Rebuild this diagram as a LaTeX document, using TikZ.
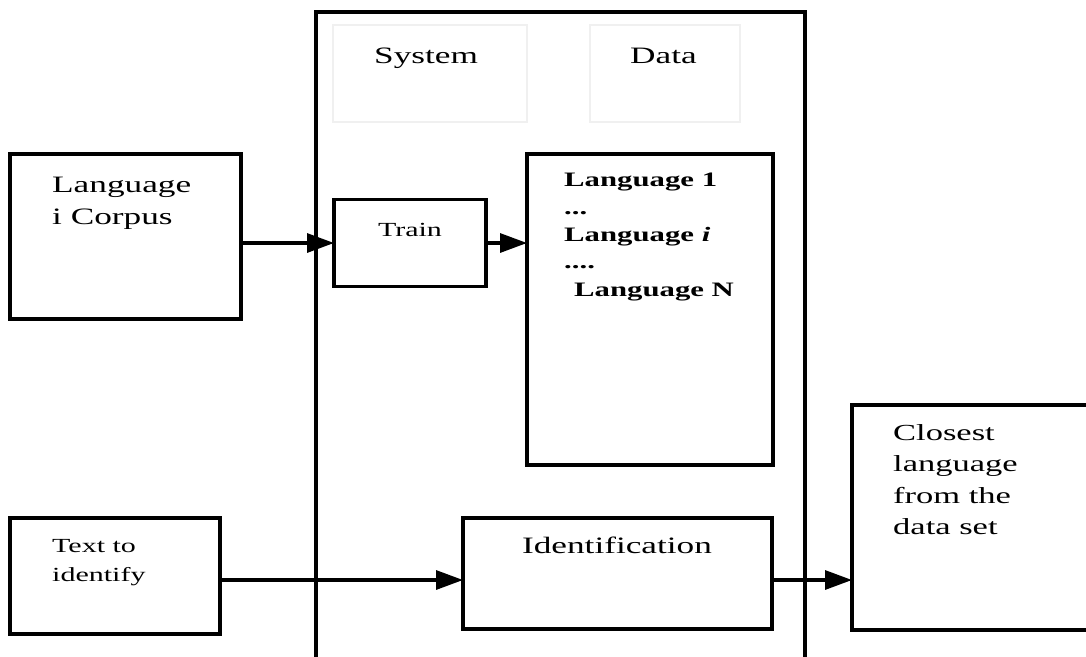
\documentclass[tikz,border=0pt]{standalone}
\usepackage{fontspec}
\setmainfont{Liberation Serif}[FakeStretch=1.5]
\usepackage{tikz}
\usetikzlibrary{calc,positioning,arrows.meta}
\tikzset{
	>={Triangle[length=27pt,width=19pt]},
	x=1pt, y=-1pt,
	block/.style={draw, line width=3.2pt, inner sep=0pt, outer sep=0pt},
	ghost/.style={draw=gray!12, line width=2.5pt, inner sep=0pt, outer sep=0pt},
	lbl/.style={inner sep=0pt, align=left, anchor=base west},
	flow/.style={->, line width=3.2pt},
}

\begin{document}
\begin{tikzpicture}
		\useasboundingbox (0,0) rectangle (1086,656);
		\clip (0,0) rectangle (1086,656);

		% boxes
		\node[block, minimum width=489pt, minimum height=688pt] (sys) at (560.5,356) {};
		\node[ghost, minimum width=194pt, minimum height=97pt] (syshead) at (430,73.5) {};
		\node[ghost, minimum width=150pt, minimum height=97pt] (datahead) at (665,73.5) {};
		\node[block, minimum width=231pt, minimum height=165pt] (corpus) at (125.5,236.5) {};
		\node[block, minimum width=152pt, minimum height=87pt] (train) at (410,243) {};
		\node[block, minimum width=246pt, minimum height=311pt] (langs) at (650,309.5) {};
		\node[block, minimum width=210pt, minimum height=116pt] (textid) at (115,576) {};
		\node[block, minimum width=309pt, minimum height=111pt] (ident) at (617.5,573.5) {};
		\node[block, minimum width=268pt, minimum height=225pt] (closest) at (986,517.5) {};

		% texts (multi-line ones sit on the baseline of their last line)
		\node[lbl, font=\fontsize{23.5}{32}\selectfont] (systxt) at (374,63) {System};
		\node[lbl, font=\fontsize{23.5}{32}\selectfont] (datatxt) at (630,63) {Data};
		\node[lbl, font=\fontsize{23.5}{32}\selectfont] (corpustxt) at (52,224) {Language\\i Corpus};
		\node[lbl, anchor=base, font=\fontsize{20}{27}\selectfont] (traintxt) at (410,236) {Train};
		\node[lbl, font=\bfseries\fontsize{20.5}{27.3}\selectfont] (langstxt) at (564,296)
			{Language 1\\...\\Language \textit{i}\\....\\\hspace{10pt}Language N};
		\node[lbl, font=\fontsize{20}{29}\selectfont] (textidtxt) at (52,581) {Text to\\identify};
		\node[lbl, anchor=base, font=\fontsize{23.5}{32}\selectfont] (identtxt) at (617,553) {Identification};
		\node[lbl, font=\fontsize{23}{31.5}\selectfont] (closesttxt) at (893,534.5)
			{Closest\\language\\from the\\data set};

		% arrows
		\draw[flow] ([yshift=-6.5pt]corpus.east) -- (train.west);
		\draw[flow] (train.east) -- (train.east -| langs.west);
		\draw[flow] ([yshift=-4pt]textid.east) -- ([yshift=-4pt]textid.east -| ident.west);
		\draw[flow] ([yshift=-6.5pt]ident.east) -- ([yshift=-6.5pt]ident.east -| closest.west);
	\end{tikzpicture}
\end{document}
